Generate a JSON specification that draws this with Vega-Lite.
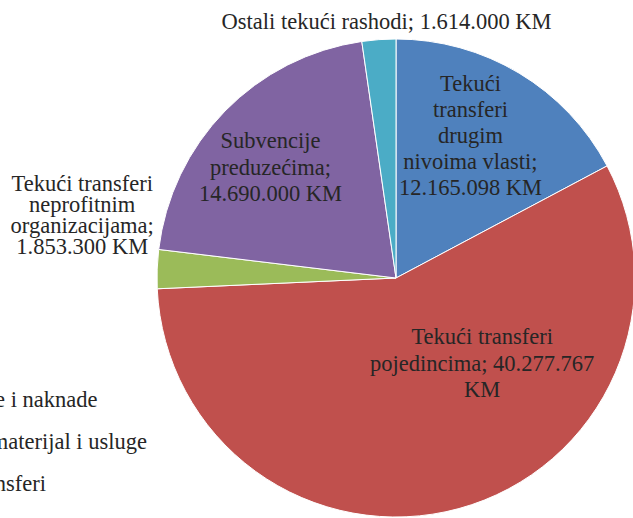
{
  "$schema": "https://vega.github.io/schema/vega-lite/v6.json",
  "width": 474,
  "height": 478,
  "autosize": {"type": "none"},
  "padding": {"left": 159, "top": 39, "right": 0, "bottom": 0},
  "background": "white",
  "config": {"view": {"stroke": null}, "font": "Liberation Serif"},
  "datasets": {
    "pie": [
      {"i": 1, "kat": "Tekući transferi drugim nivoima vlasti", "value": 12165098, "label": "Tekući\ntransferi\ndrugim\nnivoima vlasti;\n12.165.098 KM"},
      {"i": 2, "kat": "Tekući transferi pojedincima", "value": 40277767, "label": "Tekući transferi\npojedincima; 40.277.767\nKM"},
      {"i": 3, "kat": "Tekući transferi neprofitnim organizacijama", "value": 1853300, "label": "Tekući transferi\nneprofitnim\norganizacijama;\n1.853.300 KM"},
      {"i": 4, "kat": "Subvencije preduzećima", "value": 14690000, "label": "Subvencije\npreduzećima;\n14.690.000 KM"},
      {"i": 5, "kat": "Ostali tekući rashodi", "value": 1614000, "label": "Ostali tekući rashodi; 1.614.000 KM"}
    ],
    "legenda": [
      {"kat": "Bruto plate i naknade"},
      {"kat": "Izdaci za materijal i usluge"},
      {"kat": "Tekući transferi"}
    ]
  },
  "layer": [
    {
      "data": {"name": "pie"},
      "mark": {"type": "arc", "radius": 239, "stroke": "#ffffff", "strokeWidth": 1},
      "encoding": {
        "theta": {"field": "value", "type": "quantitative", "stack": true},
        "order": {"field": "i", "type": "quantitative"},
        "color": {
          "field": "kat",
          "type": "nominal",
          "scale": {
            "domain": ["Tekući transferi drugim nivoima vlasti", "Tekući transferi pojedincima", "Tekući transferi neprofitnim organizacijama", "Subvencije preduzećima", "Ostali tekući rashodi"],
            "range": ["#4f81bd", "#c0504d", "#9bbb59", "#8064a2", "#4bacc6"]
          },
          "legend": null
        }
      }
    },
    {
      "data": {"name": "pie"},
      "mark": {"type": "text", "radius": 160, "dx": -8, "dy": -57, "lineHeight": 26, "lineBreak": "\n", "fontSize": 22.5, "color": "#262626", "align": "center", "baseline": "middle"},
      "encoding": {
        "theta": {"field": "value", "type": "quantitative", "stack": true},
        "order": {"field": "i", "type": "quantitative"},
        "text": {"condition": {"test": "datum.i === 1", "field": "label", "type": "nominal"}, "value": ""}
      }
    },
    {
      "data": {"name": "pie"},
      "mark": {"type": "text", "radius": 160, "dx": 44, "dy": -95, "lineHeight": 26.5, "lineBreak": "\n", "fontSize": 22.5, "color": "#262626", "align": "center", "baseline": "middle"},
      "encoding": {
        "theta": {"field": "value", "type": "quantitative", "stack": true},
        "order": {"field": "i", "type": "quantitative"},
        "text": {"condition": {"test": "datum.i === 2", "field": "label", "type": "nominal"}, "value": ""}
      }
    },
    {
      "data": {"name": "pie"},
      "mark": {"type": "text", "radius": 315, "dx": 1, "dy": -82, "lineHeight": 21, "lineBreak": "\n", "fontSize": 22.5, "color": "#262626", "align": "center", "baseline": "middle"},
      "encoding": {
        "theta": {"field": "value", "type": "quantitative", "stack": true},
        "order": {"field": "i", "type": "quantitative"},
        "text": {"condition": {"test": "datum.i === 3", "field": "label", "type": "nominal"}, "value": ""}
      }
    },
    {
      "data": {"name": "pie"},
      "mark": {"type": "text", "radius": 160, "dx": -11, "dy": -25, "lineHeight": 26.5, "lineBreak": "\n", "fontSize": 22.5, "color": "#262626", "align": "center", "baseline": "middle"},
      "encoding": {
        "theta": {"field": "value", "type": "quantitative", "stack": true},
        "order": {"field": "i", "type": "quantitative"},
        "text": {"condition": {"test": "datum.i === 4", "field": "label", "type": "nominal"}, "value": ""}
      }
    },
    {
      "data": {"name": "pie"},
      "mark": {"type": "text", "radius": 257, "dx": 9, "dy": 0, "lineBreak": "\n", "fontSize": 22.5, "color": "#262626", "align": "center", "baseline": "middle"},
      "encoding": {
        "theta": {"field": "value", "type": "quantitative", "stack": true},
        "order": {"field": "i", "type": "quantitative"},
        "text": {"condition": {"test": "datum.i === 5", "field": "label", "type": "nominal"}, "value": ""}
      }
    },
    {
      "data": {"name": "legenda"},
      "mark": {"type": "point", "opacity": 0, "size": 0},
      "encoding": {
        "color": {
          "field": "kat",
          "type": "nominal",
          "scale": {"domain": ["Bruto plate i naknade", "Izdaci za materijal i usluge", "Tekući transferi"], "range": ["#4f81bd", "#c0504d", "#9bbb59"]},
          "legend": {
            "orient": "none",
            "legendX": -281,
            "legendY": 350,
            "title": null,
            "padding": 0,
            "symbolType": "square",
            "symbolSize": 100,
            "symbolOpacity": 1,
            "labelFont": "Liberation Serif",
            "labelFontSize": 22.5,
            "labelColor": "#262626",
            "labelLimit": 0,
            "labelOffset": 4,
            "rowPadding": 19
          }
        }
      }
    }
  ],
  "resolve": {"scale": {"color": "independent"}, "legend": {"color": "independent"}}
}
